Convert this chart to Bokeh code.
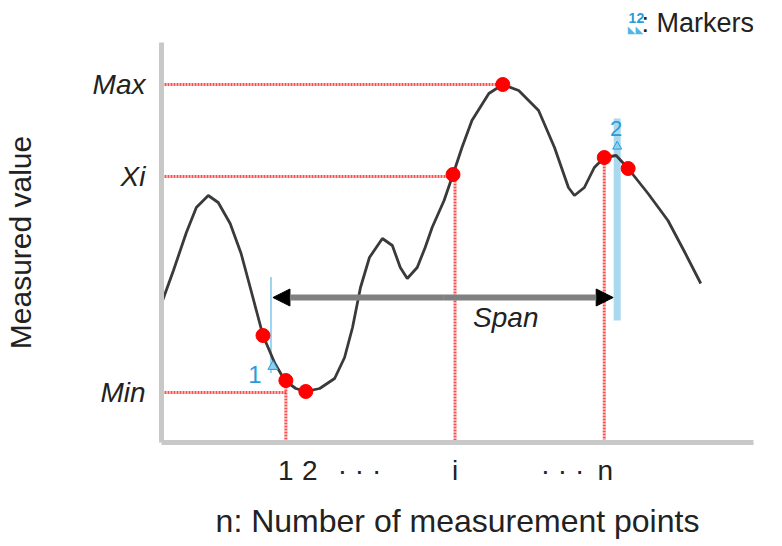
from bokeh.plotting import figure
from bokeh.layouts import column
from bokeh.models import Range1d, FixedTicker, Arrow, NormalHead, Label
from bokeh.core.properties import value
from bokeh.embed import file_html
from bokeh.resources import INLINE

FONT = "Liberation Sans"

# ---- data (schematic units) ----
curve_x = [158, 170, 183, 193, 205, 215, 227, 238, 248, 260, 272, 282, 293, 303, 317, 332, 342, 350,
           358, 367, 380, 390, 398, 405, 415, 423, 430, 442, 451, 460, 470, 487, 501, 517, 537, 553,
           567, 573, 583, 593, 603, 615, 627, 647, 667, 683, 700]
curve_y = [303, 270, 232, 207, 195, 202, 223, 253, 290, 335, 363, 380, 388, 391, 388, 378, 357, 327,
           287, 257, 238, 245, 267, 278, 267, 247, 227, 200, 174, 147, 120, 93, 84, 90, 110, 147,
           187, 195, 187, 167, 157, 155, 168, 193, 220, 250, 283]

point_x = [260, 283, 303, 451, 501, 603, 627]
point_y = [335, 380, 391, 174, 84, 157, 168]

# y-axis levels
y_tick_labels = ["Max", "Xi", "Min"]
y_tick_values = [84, 176, 392]
h_guide_end = [501, 451, 283]

# x-axis positions
x_tick_values = [283, 307, 357, 453, 561, 604]
x_tick_labels = ["1", "2", "· · ·", "i", "· · ·", "n"]
v_guide_x = [283, 453, 603]
v_guide_top = [380, 174, 157]

# span arrow
span_start, span_end, span_y = 270, 612, 297

# markers
marker_x = [268, 616]
marker_top = [277, 118]
marker_bottom = [372, 320]
marker_names = ["1", "2"]

W = 782
TOP_H = 42
X0, X1 = 158, 753
Y_BOTTOM, Y_TOP = 442, 42
MAIN_H = 546 - TOP_H

BLUE = "#2b9bd8"

# ---- legend strip ----
top = figure(width=W, height=TOP_H, output_backend="svg", toolbar_location=None, title=None,
             x_range=Range1d(0, W), y_range=Range1d(TOP_H, 0),
             min_border=0, x_axis_type=None, y_axis_type=None)
top.outline_line_color = None
top.xgrid.visible = False
top.ygrid.visible = False
top.add_layout(Label(x=617, y=17, text="12", text_font=FONT, text_font_size="14px", text_font_style="bold",
                     text_color=BLUE, text_baseline="middle"))
top.add_layout(Label(x=616, y=29, text="◣◣", text_font="DejaVu Sans", text_font_size="10px",
                     text_color="#4fb6e6", text_baseline="middle"))
top.add_layout(Label(x=634, y=22, text=": Markers", text_font=FONT, text_font_size="27px",
                     text_color="#222222", text_baseline="middle"))

# ---- main chart ----
p = figure(width=W, height=MAIN_H, output_backend="svg", toolbar_location=None, title=None,
           x_range=Range1d(X0, X1), y_range=Range1d(Y_BOTTOM, Y_TOP),
           min_border_left=X0, min_border_right=W - X1, min_border_top=0,
           min_border_bottom=MAIN_H - (Y_BOTTOM - Y_TOP))
p.outline_line_color = None
p.xgrid.visible = False
p.ygrid.visible = False

AX_COL = "#c8c8c8"
for ax in (p.xaxis, p.yaxis):
    ax.axis_line_color = AX_COL
    ax.axis_line_width = 5
    ax.major_tick_line_color = None
    ax.minor_tick_line_color = None
    ax.major_label_text_font = FONT
    ax.major_label_text_color = "#222222"
    ax.major_label_text_font_size = "28px"
    ax.axis_label_text_font = FONT
    ax.axis_label_text_font_style = "normal"
    ax.axis_label_text_color = "#222222"

p.yaxis.ticker = FixedTicker(ticks=y_tick_values)
p.yaxis.major_label_overrides = {v: l for v, l in zip(y_tick_values, y_tick_labels)}
p.yaxis.major_label_text_font_style = "italic"
p.yaxis.major_label_standoff = 10
p.yaxis.axis_label = "Measured value"
p.yaxis.axis_label_text_font_size = "30px"
p.yaxis.axis_label_standoff = 53

p.xaxis.ticker = FixedTicker(ticks=x_tick_values)
p.xaxis.major_label_overrides = {v: l for v, l in zip(x_tick_values, x_tick_labels)}
p.xaxis.major_label_standoff = 6
p.xaxis.axis_label = "n: Number of measurement points"
p.xaxis.axis_label_text_font_size = "32px"
p.xaxis.axis_label_standoff = 14

RED = "#ff2020"
p.segment(x0=[X0] * len(y_tick_values), y0=y_tick_values, x1=h_guide_end, y1=y_tick_values,
          line_color=RED, line_width=3, line_dash="2 1", line_alpha=0.8)
p.segment(x0=v_guide_x, y0=v_guide_top, x1=v_guide_x, y1=[Y_BOTTOM] * len(v_guide_x),
          line_color=RED, line_width=3, line_dash="2 1", line_alpha=0.8)

# marker 2 bar and marker 1 dotted line
p.segment(x0=[marker_x[1]], y0=[marker_top[1]], x1=[marker_x[1]], y1=[marker_bottom[1]],
          line_color="#a9d9ef", line_width=7)
p.segment(x0=[marker_x[0]], y0=[marker_top[0]], x1=[marker_x[0]], y1=[marker_bottom[0]],
          line_color="#3aa8e0", line_width=2, line_dash="1 1")

# curve
p.line(curve_x, curve_y, line_color="#3a3a3a", line_width=2.8)

# span arrow
mid = (span_start + span_end) / 2
for end_x in (span_start, span_end):
    p.add_layout(Arrow(x_start=mid, x_end=end_x, y_start=span_y, y_end=span_y,
                       line_color="#808080", line_width=6,
                       end=NormalHead(size=17, fill_color="black", line_color="black", line_width=1)))
p.text(x=[mid + 63], y=[span_y + 20], text=["Span"],
       text_font=value(FONT), text_font_style="italic", text_font_size="28px",
       text_align="center", text_baseline="middle", text_color="#222222")

# red measurement points
p.scatter(point_x, point_y, size=14, fill_color="#ff0000", line_color="#ff0000")

# marker flags and labels
p.scatter([marker_x[0] + 2], [marker_bottom[0] - 6], marker="triangle", size=10,
          fill_color="#8fd0f0", line_color=BLUE)
p.scatter([marker_x[1]], [marker_top[1] + 28], marker="triangle", size=9,
          fill_color="#8fd0f0", line_color=BLUE)
p.text(x=[marker_x[0] - 16], y=[marker_bottom[0] + 2], text=[marker_names[0]],
       text_font=value(FONT), text_font_size="24px", text_align="center", text_baseline="middle",
       text_color=BLUE)
p.text(x=[marker_x[1] - 1], y=[marker_top[1] + 10], text=[marker_names[1]],
       text_font=value(FONT), text_font_size="22px", text_align="center", text_baseline="middle",
       text_color=BLUE)

layout = column(top, p, spacing=0)
open("out.html", "w").write(file_html(layout, INLINE))
